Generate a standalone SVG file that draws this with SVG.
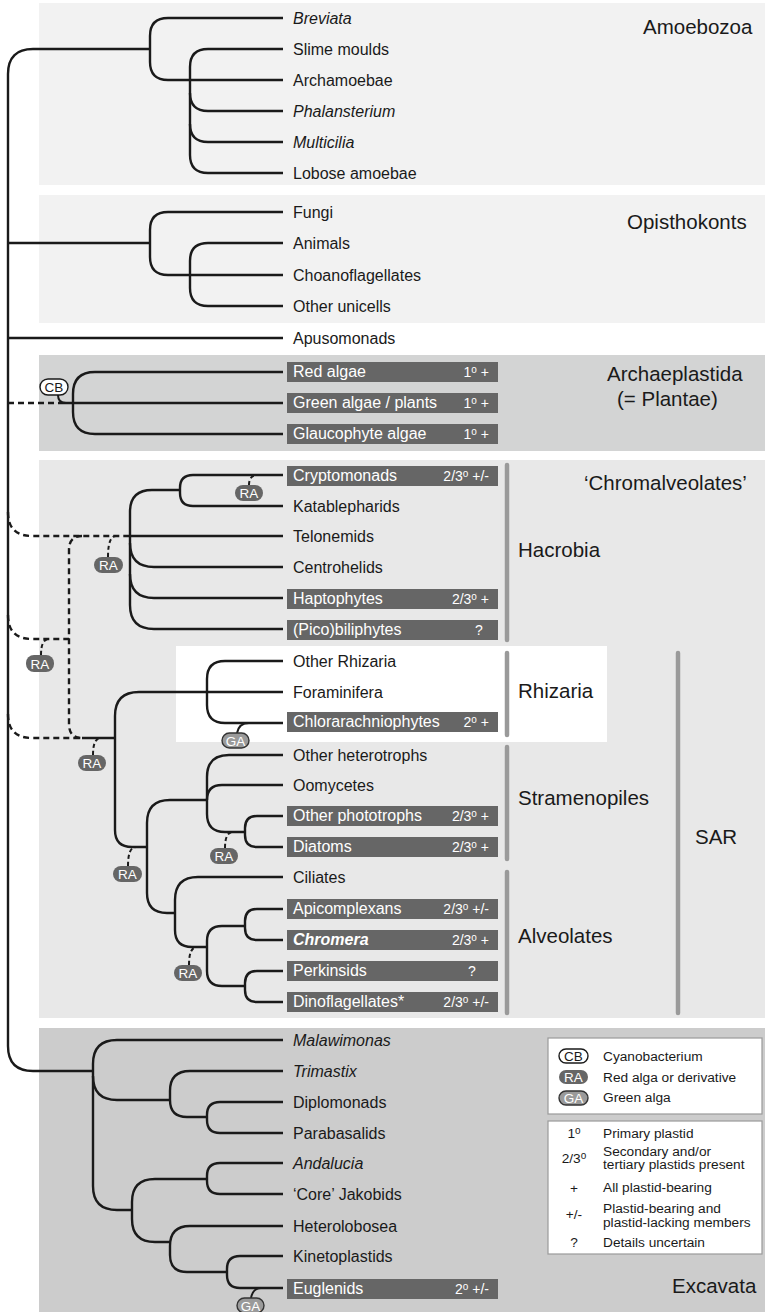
<svg xmlns="http://www.w3.org/2000/svg" width="765" height="1312" viewBox="0 0 765 1312">
<style>
text{font-family:"Liberation Sans",Arial,sans-serif;fill:#1a1a1a}
.lf{font-size:16px}
.it{font-style:italic}
.bi{font-style:italic;font-weight:bold}
.w{fill:#fff}
.pl{font-size:14px;fill:#fff}
.grp{font-size:20.5px}
.lg{font-size:13.7px}
.box{fill:#666}
.br{fill:none;stroke:#1a1a1a;stroke-width:2.4}
.ds{fill:none;stroke:#1a1a1a;stroke-width:2.4;stroke-dasharray:6 4}
.cn{fill:none;stroke:#1a1a1a;stroke-width:2}
.cd{fill:none;stroke:#1a1a1a;stroke-width:2;stroke-dasharray:4 3}
.bar{stroke:#9a9a9a;stroke-width:4.5;stroke-linecap:round}
.pt{font-size:13.5px;text-anchor:middle}
.ra{fill:#666}
.ga{fill:#9a9a9a;stroke:#333;stroke-width:1.4}
.cb{fill:#fff;stroke:#1a1a1a;stroke-width:1.4}
.lb{fill:#fff;stroke:#9a9a9a;stroke-width:1.2}
</style>

<g id="panels">
<rect x="39" y="3" width="726" height="182" fill="#f2f2f2"/>
<rect x="39" y="195" width="726" height="128" fill="#f2f2f2"/>
<rect x="39" y="355" width="726" height="96" fill="#d3d4d4"/>
<rect x="39" y="460" width="726" height="558" fill="#e8e8e8"/>
<rect x="176" y="646" width="431" height="96" fill="#ffffff"/>
<rect x="39" y="1028" width="726" height="284" fill="#cccccc"/>
</g>

<g id="connectors">
<path class="br" d="M150 49H33Q8 49 8 74V1046Q8 1071 33 1071H93"/>
<path class="br" d="M283 18H168Q150 18 150 36V62Q150 80 168 80H283"/>
<path class="br" d="M283 49H208Q190 49 190 67V155Q190 173 208 173H283"/>
<path class="br" d="M190 93Q190 111 208 111H283"/>
<path class="br" d="M190 124Q190 142 208 142H283"/>
<path class="br" d="M8 243H150"/>
<path class="br" d="M283 212H168Q150 212 150 230V257Q150 275 168 275H283"/>
<path class="br" d="M283 243H208Q190 243 190 261V288Q190 306 208 306H283"/>
<path class="br" d="M8 338H283"/>
<path class="ds" d="M8 403H62"/>
<path class="br" d="M62 403H283"/>
<path class="br" d="M283 372H95Q73 372 73 394V412Q73 434 95 434H283"/>
<path class="ds" d="M8 512Q8 536 32 536H130"/>
<path class="ds" d="M8 615Q8 639 32 639H69"/>
<path class="ds" d="M8 714Q8 738 32 738H82"/>
<path class="ds" d="M82 536Q69 536 69 550V724Q69 738 82 738"/>
<path class="br" d="M82 738H115"/>
<path class="br" d="M180 490H152Q130 490 130 512V605Q130 629 154 629H283"/>
<path class="br" d="M130 536H283"/>
<path class="br" d="M130 543Q130 567 154 567H283"/>
<path class="br" d="M130 574Q130 598 154 598H283"/>
<path class="br" d="M283 475H193Q180 475 180 488V493Q180 506 193 506H283"/>
<path class="br" d="M283 692H139Q115 692 115 716V830Q115 847 132 847H147"/>
<path class="br" d="M283 661H225Q207 661 207 679V705Q207 723 225 723H283"/>
<path class="br" d="M207 800H170Q147 800 147 823V893Q147 913 167 913H175"/>
<path class="br" d="M283 755H229Q207 755 207 777V814Q207 832 225 832H245"/>
<path class="br" d="M207 800Q207 785 222 785H283"/>
<path class="br" d="M283 816H257Q245 816 245 828V835Q245 847 257 847H283"/>
<path class="br" d="M283 877H198Q175 877 175 900V930Q175 947 192 947H207"/>
<path class="br" d="M245 926H222Q207 926 207 941V971Q207 986 222 986H245"/>
<path class="br" d="M283 909H257Q245 909 245 921V928Q245 940 257 940H283"/>
<path class="br" d="M283 971H257Q245 971 245 983V990Q245 1002 257 1002H283"/>
<path class="br" d="M283 1040H117Q93 1040 93 1064V1186Q93 1210 117 1210H132"/>
<path class="br" d="M93 1076Q93 1100 117 1100H170"/>
<path class="br" d="M283 1071H190Q170 1071 170 1091V1100Q170 1117 187 1117H207"/>
<path class="br" d="M283 1102H220Q207 1102 207 1115V1120Q207 1133 220 1133H283"/>
<path class="br" d="M207 1179H155Q132 1179 132 1202V1219Q132 1242 155 1242H170"/>
<path class="br" d="M283 1163H220Q207 1163 207 1176V1181Q207 1194 220 1194H283"/>
<path class="br" d="M283 1226H190Q170 1226 170 1246V1255Q170 1272 187 1272H227"/>
<path class="br" d="M283 1256H240Q227 1256 227 1269V1275Q227 1288 240 1288H283"/>
<path class="cn" d="M58 395Q58 403 66 403"/>
<path class="cd" d="M249 485Q249 475 258 475"/>
<path class="cd" d="M108 557Q108 536 116 536"/>
<path class="cd" d="M41 655Q41 639 49 639"/>
<path class="cd" d="M93 755Q93 738 101 738"/>
<path class="cn" d="M237 733Q239 723 249 723"/>
<path class="cd" d="M225 848Q225 832 233 832"/>
<path class="cd" d="M128 866Q128 847 136 847"/>
<path class="cd" d="M189 965Q189 947 197 947"/>
<path class="cn" d="M251 1298Q253 1288 261 1288"/>
</g>

<g id="bars">
<line class="bar" x1="507" y1="465" x2="507" y2="640"/>
<line class="bar" x1="507" y1="653" x2="507" y2="735"/>
<line class="bar" x1="507" y1="747" x2="507" y2="859"/>
<line class="bar" x1="507" y1="872" x2="507" y2="1013"/>
<line class="bar" x1="678" y1="653" x2="678" y2="1013"/>
</g>

<g id="leaves">
<g id="n-breviata"><text class="lf it" x="293" y="23.5">Breviata</text></g>
<g id="n-slime"><text class="lf" x="293" y="54.5">Slime moulds</text></g>
<g id="n-archamoebae"><text class="lf" x="293" y="85.5">Archamoebae</text></g>
<g id="n-phalansterium"><text class="lf it" x="293" y="116.5">Phalansterium</text></g>
<g id="n-multicilia"><text class="lf it" x="293" y="147.5">Multicilia</text></g>
<g id="n-lobose"><text class="lf" x="293" y="178.5">Lobose amoebae</text></g>
<g id="n-fungi"><text class="lf" x="293" y="217.5">Fungi</text></g>
<g id="n-animals"><text class="lf" x="293" y="248.5">Animals</text></g>
<g id="n-choano"><text class="lf" x="293" y="280.5">Choanoflagellates</text></g>
<g id="n-unicells"><text class="lf" x="293" y="311.5">Other unicells</text></g>
<g id="n-apuso"><text class="lf" x="293" y="343.5">Apusomonads</text></g>
<g id="n-red"><rect class="box" x="287" y="362" width="211" height="20"/><text class="lf w" x="293" y="377">Red algae</text><text class="pl" x="489" y="377" text-anchor="end">1<tspan font-size="10" dy="-4">o</tspan><tspan dy="4"> +</tspan></text></g>
<g id="n-green"><rect class="box" x="287" y="393" width="211" height="20"/><text class="lf w" x="293" y="408">Green algae / plants</text><text class="pl" x="489" y="408" text-anchor="end">1<tspan font-size="10" dy="-4">o</tspan><tspan dy="4"> +</tspan></text></g>
<g id="n-glauco"><rect class="box" x="287" y="424" width="211" height="20"/><text class="lf w" x="293" y="439">Glaucophyte algae</text><text class="pl" x="489" y="439" text-anchor="end">1<tspan font-size="10" dy="-4">o</tspan><tspan dy="4"> +</tspan></text></g>
<g id="n-crypto"><rect class="box" x="287" y="466" width="211" height="20"/><text class="lf w" x="293" y="481">Cryptomonads</text><text class="pl" x="489" y="481" text-anchor="end">2/3<tspan font-size="10" dy="-4">o</tspan><tspan dy="4"> +/-</tspan></text></g>
<g id="n-katab"><text class="lf" x="293" y="511.5">Katablepharids</text></g>
<g id="n-telo"><text class="lf" x="293" y="541.5">Telonemids</text></g>
<g id="n-centro"><text class="lf" x="293" y="572.5">Centrohelids</text></g>
<g id="n-hapto"><rect class="box" x="287" y="589" width="211" height="20"/><text class="lf w" x="293" y="604">Haptophytes</text><text class="pl" x="489" y="604" text-anchor="end">2/3<tspan font-size="10" dy="-4">o</tspan><tspan dy="4"> +</tspan></text></g>
<g id="n-pico"><rect class="box" x="287" y="620" width="211" height="20"/><text class="lf w" x="293" y="635">(Pico)biliphytes</text><text class="pl" x="479" y="635" text-anchor="middle">?</text></g>
<g id="n-otherrhiz"><text class="lf" x="293" y="666.5">Other Rhizaria</text></g>
<g id="n-foram"><text class="lf" x="293" y="697.5">Foraminifera</text></g>
<g id="n-chlorarach"><rect class="box" x="287" y="712" width="211" height="20"/><text class="lf w" x="293" y="727">Chlorarachniophytes</text><text class="pl" x="489" y="727" text-anchor="end">2<tspan font-size="10" dy="-4">o</tspan><tspan dy="4"> +</tspan></text></g>
<g id="n-hetero"><text class="lf" x="293" y="760.5">Other heterotrophs</text></g>
<g id="n-oomy"><text class="lf" x="293" y="790.5">Oomycetes</text></g>
<g id="n-photo"><rect class="box" x="287" y="806" width="211" height="20"/><text class="lf w" x="293" y="821">Other phototrophs</text><text class="pl" x="489" y="821" text-anchor="end">2/3<tspan font-size="10" dy="-4">o</tspan><tspan dy="4"> +</tspan></text></g>
<g id="n-diatoms"><rect class="box" x="287" y="837" width="211" height="20"/><text class="lf w" x="293" y="852">Diatoms</text><text class="pl" x="489" y="852" text-anchor="end">2/3<tspan font-size="10" dy="-4">o</tspan><tspan dy="4"> +</tspan></text></g>
<g id="n-ciliates"><text class="lf" x="293" y="882.5">Ciliates</text></g>
<g id="n-apicom"><rect class="box" x="287" y="899" width="211" height="20"/><text class="lf w" x="293" y="914">Apicomplexans</text><text class="pl" x="489" y="914" text-anchor="end">2/3<tspan font-size="10" dy="-4">o</tspan><tspan dy="4"> +/-</tspan></text></g>
<g id="n-chromera"><rect class="box" x="287" y="930" width="211" height="20"/><text class="lf w bi" x="293" y="945">Chromera</text><text class="pl" x="489" y="945" text-anchor="end">2/3<tspan font-size="10" dy="-4">o</tspan><tspan dy="4"> +</tspan></text></g>
<g id="n-perkin"><rect class="box" x="287" y="961" width="211" height="20"/><text class="lf w" x="293" y="976">Perkinsids</text><text class="pl" x="472" y="976" text-anchor="middle">?</text></g>
<g id="n-dino"><rect class="box" x="287" y="992" width="211" height="20"/><text class="lf w" x="293" y="1007">Dinoflagellates*</text><text class="pl" x="489" y="1007" text-anchor="end">2/3<tspan font-size="10" dy="-4">o</tspan><tspan dy="4"> +/-</tspan></text></g>
<g id="n-malawi"><text class="lf it" x="293" y="1045.5">Malawimonas</text></g>
<g id="n-trimastix"><text class="lf it" x="293" y="1076.5">Trimastix</text></g>
<g id="n-diplo"><text class="lf" x="293" y="1107.5">Diplomonads</text></g>
<g id="n-parabas"><text class="lf" x="293" y="1138.5">Parabasalids</text></g>
<g id="n-andalucia"><text class="lf it" x="293" y="1168.5">Andalucia</text></g>
<g id="n-jakobids"><text class="lf" x="293" y="1199.5">‘Core’ Jakobids</text></g>
<g id="n-heterolob"><text class="lf" x="293" y="1231.5">Heterolobosea</text></g>
<g id="n-kineto"><text class="lf" x="293" y="1261.5">Kinetoplastids</text></g>
<g id="n-euglenids"><rect class="box" x="287" y="1279" width="211" height="20"/><text class="lf w" x="293" y="1294">Euglenids</text><text class="pl" x="489" y="1294" text-anchor="end">2<tspan font-size="10" dy="-4">o</tspan><tspan dy="4"> +/-</tspan></text></g>
</g>

<g id="groups">
<g id="g-amoebozoa"><text class="grp" x="643" y="34">Amoebozoa</text></g>
<g id="g-opistho"><text class="grp" x="627" y="229">Opisthokonts</text></g>
<g id="g-archae"><text class="grp" x="607" y="381">Archaeplastida</text><text class="grp" x="617" y="406">(= Plantae)</text></g>
<g id="g-chromalv"><text class="grp" x="584" y="490">‘Chromalveolates’</text></g>
<g id="g-hacrobia"><text class="grp" x="518" y="557">Hacrobia</text></g>
<g id="g-rhizaria"><text class="grp" x="518" y="698">Rhizaria</text></g>
<g id="g-strameno"><text class="grp" x="518" y="805">Stramenopiles</text></g>
<g id="g-alveo"><text class="grp" x="518" y="943">Alveolates</text></g>
<g id="g-sar"><text class="grp" x="695" y="844">SAR</text></g>
<g id="g-excavata"><text class="grp" x="672" y="1293">Excavata</text></g>
</g>

<g id="pills">
<g id="p-cb"><rect class="cb" x="40" y="379" width="28" height="16" rx="8"/><text class="pt" x="54" y="392">CB</text></g>
<g id="p-ra1"><rect class="ra" x="235" y="485" width="28" height="16" rx="8"/><text class="pt w" x="249" y="498">RA</text></g>
<g id="p-ra2"><rect class="ra" x="94" y="557" width="29" height="16" rx="8"/><text class="pt w" x="108.5" y="570">RA</text></g>
<g id="p-ra3"><rect class="ra" x="26" y="655" width="28" height="17" rx="8"/><text class="pt w" x="40" y="668.5">RA</text></g>
<g id="p-ra4"><rect class="ra" x="78" y="755" width="28" height="16" rx="8"/><text class="pt w" x="92" y="768">RA</text></g>
<g id="p-ga1"><rect class="ga" x="222" y="733" width="27" height="15" rx="7.5"/><text class="pt w" x="235.5" y="745.5">GA</text></g>
<g id="p-ra5"><rect class="ra" x="210" y="848" width="28" height="16" rx="8"/><text class="pt w" x="224" y="861">RA</text></g>
<g id="p-ra6"><rect class="ra" x="113" y="866" width="29" height="16" rx="8"/><text class="pt w" x="127.5" y="879">RA</text></g>
<g id="p-ra7"><rect class="ra" x="174" y="965" width="28" height="16" rx="8"/><text class="pt w" x="188" y="978">RA</text></g>
<g id="p-ga2"><rect class="ga" x="237" y="1298" width="27" height="15" rx="7.5"/><text class="pt w" x="250.5" y="1310.5">GA</text></g>
</g>

<g id="legend">
<rect class="lb" x="548" y="1038" width="214" height="76"/>
<rect class="cb" x="559" y="1049" width="29" height="14" rx="7"/><text class="pt" x="573.5" y="1061">CB</text>
<text class="lg" x="603" y="1061">Cyanobacterium</text>
<rect class="ra" x="559" y="1070" width="29" height="14" rx="7"/><text class="pt w" x="573.5" y="1082">RA</text>
<text class="lg" x="603" y="1082">Red alga or derivative</text>
<rect class="ga" x="559" y="1091" width="29" height="14" rx="7"/><text class="pt w" x="573.5" y="1103">GA</text>
<text class="lg" x="603" y="1102">Green alga</text>
<rect class="lb" x="548" y="1121" width="214" height="133"/>
<text class="lg" x="574" y="1138" text-anchor="middle">1<tspan font-size="10" dy="-4">o</tspan></text>
<text class="lg" x="603" y="1138">Primary plastid</text>
<text class="lg" x="574" y="1163" text-anchor="middle">2/3<tspan font-size="10" dy="-4">o</tspan></text>
<text class="lg" x="603" y="1156">Secondary and/or</text>
<text class="lg" x="603" y="1169">tertiary plastids present</text>
<text class="lg" x="574" y="1193" text-anchor="middle">+</text>
<text class="lg" x="603" y="1192">All plastid-bearing</text>
<text class="lg" x="574" y="1219" text-anchor="middle">+/-</text>
<text class="lg" x="603" y="1213">Plastid-bearing and</text>
<text class="lg" x="603" y="1227">plastid-lacking members</text>
<text class="lg" x="574" y="1247" text-anchor="middle">?</text>
<text class="lg" x="603" y="1247">Details uncertain</text>
</g>
</svg>
